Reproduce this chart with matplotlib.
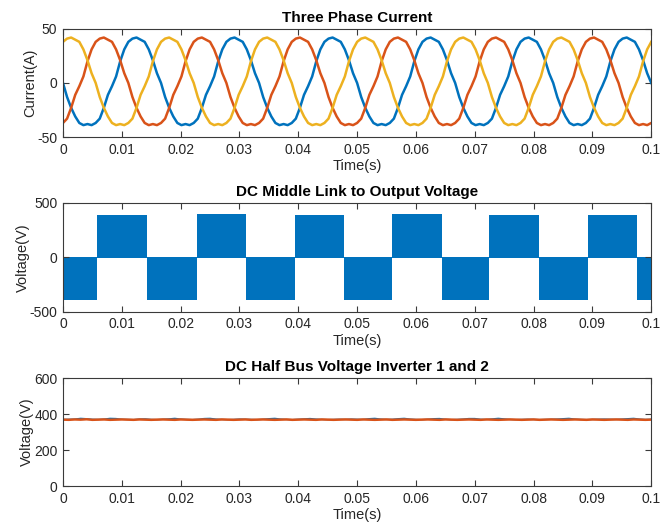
import numpy as np
import matplotlib
matplotlib.use("Agg")
import matplotlib.pyplot as plt

plt.rcParams['font.family'] = ['Liberation Sans', 'DejaVu Sans']
plt.rcParams['axes.unicode_minus'] = False

# three phase current: one 60 Hz cycle of phase A, 24 samples
f_grid = 60.0
n_cycles = 6
phase_a_cycle = [0, -13, -23, -31, -37, -39, -38, -39, -37, -33, -23, -11,
                 -3, 6, 20, 31, 38, 41, 42, 40, 38, 31, 21, 9]

# DC middle link voltage: switching instants and block levels
switch_times = [0.0, 0.0057, 0.0142, 0.0227, 0.0311, 0.0395, 0.0477,
                0.0559, 0.0644, 0.0725, 0.0810, 0.0893, 0.0976, 0.1]
block_levels = [-392, 390, -393, 392, -392, 391, -393, 392, -392, 391,
                -393, 390, -390]

# DC half bus voltages, one value per ms
bus_1 = [370, 371, 372, 376, 374, 371, 370, 372, 376, 375,
         371, 370, 369, 372, 373, 370, 369, 371, 373, 376,
         372, 370, 369, 371, 375, 376, 372, 370, 369, 370,
         372, 371, 370, 369, 371, 374, 376, 372, 370, 369,
         371, 373, 375, 372, 370, 369, 370, 371, 370, 372,
         371, 370, 374, 376, 372, 370, 371, 374, 376, 372,
         370, 369, 371, 374, 375, 371, 369, 370, 372, 375,
         375, 371, 370, 373, 376, 373, 370, 369, 370, 371,
         370, 369, 370, 371, 372, 374, 376, 372, 370, 369,
         370, 371, 372, 371, 370, 372, 374, 376, 372, 370,
         371]
bus_2 = [369, 368, 370, 369, 371, 368, 369, 370, 368, 369,
         370, 369, 368, 370, 369, 368, 369, 370, 369, 368,
         370, 369, 368, 369, 370, 369, 368, 370, 369, 368,
         369, 370, 368, 369, 370, 369, 368, 369, 370, 368,
         369, 370, 369, 368, 370, 369, 368, 369, 370, 369,
         368, 370, 369, 368, 369, 370, 368, 369, 370, 369,
         368, 369, 370, 369, 368, 370, 369, 368, 369, 370,
         369, 368, 370, 369, 368, 369, 370, 369, 368, 369,
         370, 368, 369, 370, 369, 368, 369, 370, 369, 368,
         370, 369, 368, 369, 370, 369, 368, 370, 369, 368,
         369]

blue = '#0072BD'
red = '#D95319'
yellow = '#EDB120'
axis_col = '#3a3a3a'


def style(ax, yticks):
    ax.set_xlim(0, 0.1)
    ax.set_xticks(np.arange(0, 0.1001, 0.01))
    ax.set_xticklabels(['0', '0.01', '0.02', '0.03', '0.04', '0.05',
                        '0.06', '0.07', '0.08', '0.09', '0.1'])
    ax.set_ylim(yticks[0], yticks[-1])
    ax.set_yticks(yticks)
    ax.tick_params(direction='in', length=4, width=0.8, colors=axis_col,
                   labelcolor='#262626', labelsize=10, top=True, right=True,
                   pad=4)
    for s in ax.spines.values():
        s.set_color(axis_col)
        s.set_linewidth(0.8)
    ax.set_xlabel('Time(s)', fontsize=10.5, color='#262626', labelpad=2)


fig = plt.figure(figsize=(6.7, 5.25), dpi=100)
ax1 = fig.add_axes([0.094, 0.739, 0.878, 0.206])
ax2 = fig.add_axes([0.094, 0.406, 0.878, 0.208])
ax3 = fig.add_axes([0.094, 0.074, 0.878, 0.206])

# top: three phase current
n = len(phase_a_cycle)
cyc = np.array(phase_a_cycle, dtype=float)
t_cur = np.arange(n * n_cycles + 1) / (n * f_grid)
ia = np.append(np.tile(cyc, n_cycles), cyc[0])
ib = np.append(np.tile(np.roll(cyc, -n // 3), n_cycles), np.roll(cyc, -n // 3)[0])
ic = np.append(np.tile(np.roll(cyc, n // 3), n_cycles), np.roll(cyc, n // 3)[0])
ax1.plot(t_cur, ia, color=blue, lw=1.8)
ax1.plot(t_cur, ib, color=red, lw=1.8)
ax1.plot(t_cur, ic, color=yellow, lw=1.8)
style(ax1, [-50, 0, 50])
ax1.set_ylabel('Current(A)', fontsize=10.5, color='#262626', labelpad=0)
ax1.set_title('Three Phase Current', fontsize=11, fontweight='bold', pad=5)

# middle: DC middle link voltage
for t0, t1, lev in zip(switch_times[:-1], switch_times[1:], block_levels):
    base = -6 if lev > 0 else 6
    ax2.fill_between([t0, t1], base, lev, color=blue, lw=0)
style(ax2, [-500, 0, 500])
ax2.set_ylabel('Voltage(V)', fontsize=10.5, color='#262626', labelpad=0)
ax2.set_title('DC Middle Link to Output Voltage', fontsize=11,
              fontweight='bold', pad=5)

# bottom: DC half bus voltages
t_bus = np.arange(len(bus_1)) * 0.001
ax3.plot(t_bus, bus_1, color=blue, lw=1.0)
ax3.plot(t_bus, bus_2, color=red, lw=1.8)
style(ax3, [0, 200, 400, 600])
ax3.set_ylabel('Voltage(V)', fontsize=10.5, color='#262626', labelpad=0)
ax3.set_title('DC Half Bus Voltage Inverter 1 and 2', fontsize=11,
              fontweight='bold', pad=5)

fig.savefig('out.png', dpi=100)
